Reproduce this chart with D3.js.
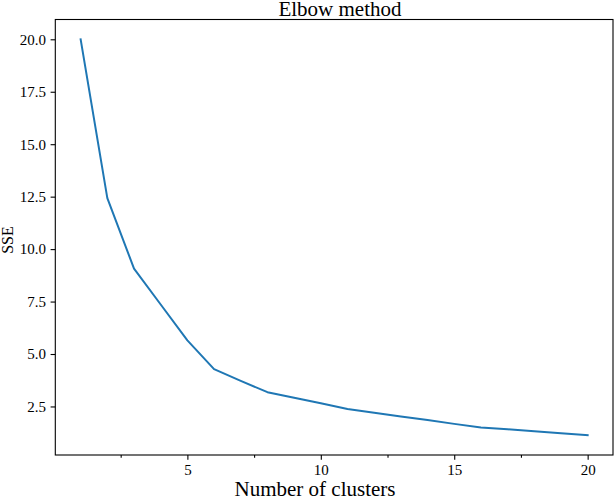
<!DOCTYPE html>
<html>
<head>
<meta charset="utf-8">
<script src="https://cdn.jsdelivr.net/npm/d3@7"></script>
<style>
  html, body { margin: 0; padding: 0; background: #fff; }
  svg { display: block; font-family: "Liberation Serif", "Times New Roman", serif; }
</style>
</head>
<body>
<svg id="chart" width="614" height="498"></svg>
<script>
// ---- data ----
const clusters = [1,2,3,4,5,6,7,8,9,10,11,12,13,14,15,16,17,18,19,20];
const sse = [20.0, 12.43, 9.07, 7.36, 5.65, 4.28, 3.72, 3.18, 2.92, 2.65, 2.38, 2.20, 2.02, 1.85, 1.67, 1.50, 1.41, 1.32, 1.22, 1.13];
const xTicks = [5, 10, 15, 20];
const xMinorTicks = [2.5, 7.5, 12.5, 17.5];
const yTicks = [2.5, 5.0, 7.5, 10.0, 12.5, 15.0, 17.5, 20.0];
const titleText = "Elbow method";
const xLabelText = "Number of clusters";
const yLabelText = "SSE";

// ---- layout ----
const L = 55.3, R = 613, T = 19.5, B = 455;
const svg = d3.select("#chart");

const xPad = (d3.max(clusters) - d3.min(clusters)) * 0.05;
const yPad = (d3.max(sse) - d3.min(sse)) * 0.05;
const x = d3.scaleLinear()
  .domain([d3.min(clusters) - xPad, d3.max(clusters) + xPad])
  .range([L, R]);
const y = d3.scaleLinear()
  .domain([d3.min(sse) - yPad, d3.max(sse) + yPad])
  .range([B, T]);

const tickLen = 4.7, tickPad = 4.7;

// x axis
svg.append("g").attr("transform", `translate(0,${B})`)
  .call(d3.axisBottom(x).tickValues(xTicks).tickFormat(d3.format("d"))
    .tickSize(tickLen).tickPadding(tickPad));
// minor x ticks
svg.append("g").attr("transform", `translate(0,${B})`)
  .call(d3.axisBottom(x).tickValues(xMinorTicks).tickFormat("")
    .tickSize(2.7).tickSizeOuter(0));

// y axis
svg.append("g").attr("transform", `translate(${L},0)`)
  .call(d3.axisLeft(y).tickValues(yTicks).tickFormat(d3.format(".1f"))
    .tickSize(tickLen).tickPadding(tickPad));

svg.selectAll(".domain").remove();
svg.selectAll(".tick line").attr("stroke", "#000").attr("stroke-width", 1.1);
svg.selectAll(".tick text")
  .attr("fill", "#000")
  .style("font-family", '"Liberation Serif", "Times New Roman", serif')
  .style("font-size", "15px");

// frame
svg.append("rect")
  .attr("x", L).attr("y", T)
  .attr("width", R - L).attr("height", B - T)
  .attr("fill", "none").attr("stroke", "#000").attr("stroke-width", 1.1);

// line
const line = d3.line().x((d, i) => x(clusters[i])).y(d => y(d));
svg.append("path")
  .datum(sse)
  .attr("d", line)
  .attr("fill", "none")
  .attr("stroke", "#1f77b4")
  .attr("stroke-width", 2)
  .attr("stroke-linejoin", "round")
  .attr("stroke-linecap", "square");

// title
svg.append("text")
  .attr("x", 340).attr("y", 16)
  .attr("text-anchor", "middle")
  .style("font-size", "21px")
  .attr("fill", "#000")
  .text(titleText);

// x label
svg.append("text")
  .attr("x", 315).attr("y", 496)
  .attr("text-anchor", "middle")
  .style("font-size", "21px")
  .attr("fill", "#000")
  .text(xLabelText);

// y label
svg.append("text")
  .attr("transform", `translate(13,240) rotate(-90)`)
  .attr("text-anchor", "middle")
  .style("font-size", "16px")
  .attr("fill", "#000")
  .text(yLabelText);
</script>
</body>
</html>
